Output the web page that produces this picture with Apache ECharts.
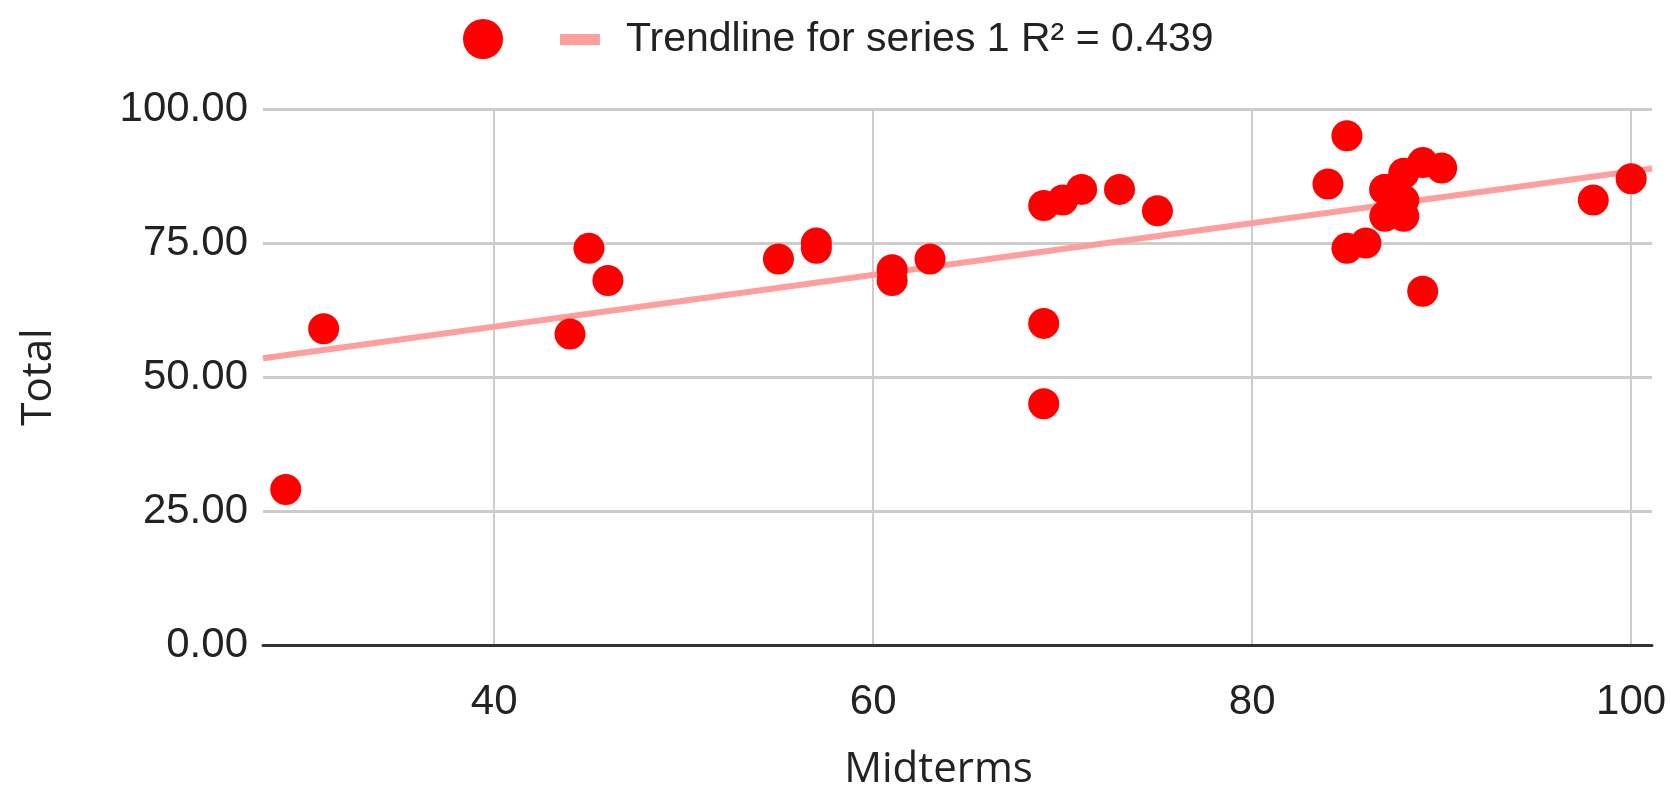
<!DOCTYPE html>
<html>
<head>
<meta charset="utf-8">
<script src="https://cdn.jsdelivr.net/npm/echarts@6/dist/echarts.min.js"></script>
<style>
  html, body { margin: 0; padding: 0; background: #fff; }
  #chart { width: 1671px; height: 792px; }
</style>
</head>
<body>
<div id="chart"></div>
<script>
// scores
var midterms = [29, 31, 44, 45, 46, 55, 57, 57, 61, 61, 63, 69, 69, 69, 70, 71, 73, 75,
                84, 85, 85, 86, 87, 87, 87, 88, 88, 88, 89, 89, 90, 98, 100];
var totals   = [29, 59, 58, 74, 68, 72, 75, 74, 70, 68, 72, 82, 60, 45, 83, 85, 85, 81,
                86, 95, 74, 75, 85, 80, 85, 88, 83, 80, 90, 66, 89, 83, 87];
// trendline end points, as drawn
var trendX = [27.8, 101.1];
var trendY = [53.5, 88.9];
var xTicks = [40, 60, 80, 100];
var trendName = 'Trendline for series 1 R² = 0.439';

var points = midterms.map(function (m, i) { return [m, totals[i]]; });
var trend = trendX.map(function (x, i) { return [x, trendY[i]]; });

var myChart = echarts.init(document.getElementById('chart'));
var option = {
    animation: false,
    legend: [{
        left: 458,
        top: 14,
        itemWidth: 40,
        itemHeight: 40,
        selectedMode: false,
        formatter: function () { return ''; },
        data: [{ name: 'Total', icon: 'circle' }]
    }, {
        left: 555,
        top: 14,
        itemWidth: 40,
        itemHeight: 11,
        itemGap: 0,
        selectedMode: false,
        textStyle: { fontSize: 41, color: '#222', fontFamily: 'Liberation Sans', padding: [0, 0, 0, 21] },
        data: [{ name: trendName, icon: 'rect' }]
    }],
    grid: { left: 263, right: 19, top: 109, bottom: 147, outerBoundsMode: 'none' },
    xAxis: {
        type: 'value',
        min: 27.8,
        max: 101.1,
        name: 'Midterms',
        nameLocation: 'middle',
        nameGap: 104,
        nameTextStyle: { fontSize: 42, color: '#222', fontFamily: 'Open Sans', padding: [0, 38, 0, 0] },
        axisLine: { show: true, lineStyle: { color: '#333', width: 3 } },
        axisTick: { show: false, customValues: xTicks },
        axisLabel: { customValues: xTicks, fontSize: 42, color: '#222', fontFamily: 'Liberation Sans', margin: 36 },
        splitLine: { show: true, lineStyle: { color: '#ccc', width: 2 } }
    },
    yAxis: {
        type: 'value',
        min: 0,
        max: 100,
        interval: 25,
        name: 'Total',
        nameLocation: 'middle',
        nameGap: 203,
        nameTextStyle: { fontSize: 42, color: '#222', fontFamily: 'Open Sans' },
        axisLine: { show: false },
        axisTick: { show: false },
        axisLabel: {
            fontSize: 42, color: '#222', fontFamily: 'Liberation Sans', margin: 15,
            formatter: function (v) { return v.toFixed(2); }
        },
        splitLine: { show: true, lineStyle: { color: '#ccc', width: 3 } }
    },
    series: [{
        name: trendName,
        type: 'line',
        data: trend,
        symbol: 'none',
        z: 1,
        color: '#ff9e9e',
        lineStyle: { color: '#ff9e9e', width: 6 }
    }, {
        name: 'Total',
        type: 'scatter',
        data: points,
        symbolSize: 31,
        z: 2,
        itemStyle: { color: '#ff0000', opacity: 1 }
    }]
};
myChart.setOption(option);
</script>
</body>
</html>
